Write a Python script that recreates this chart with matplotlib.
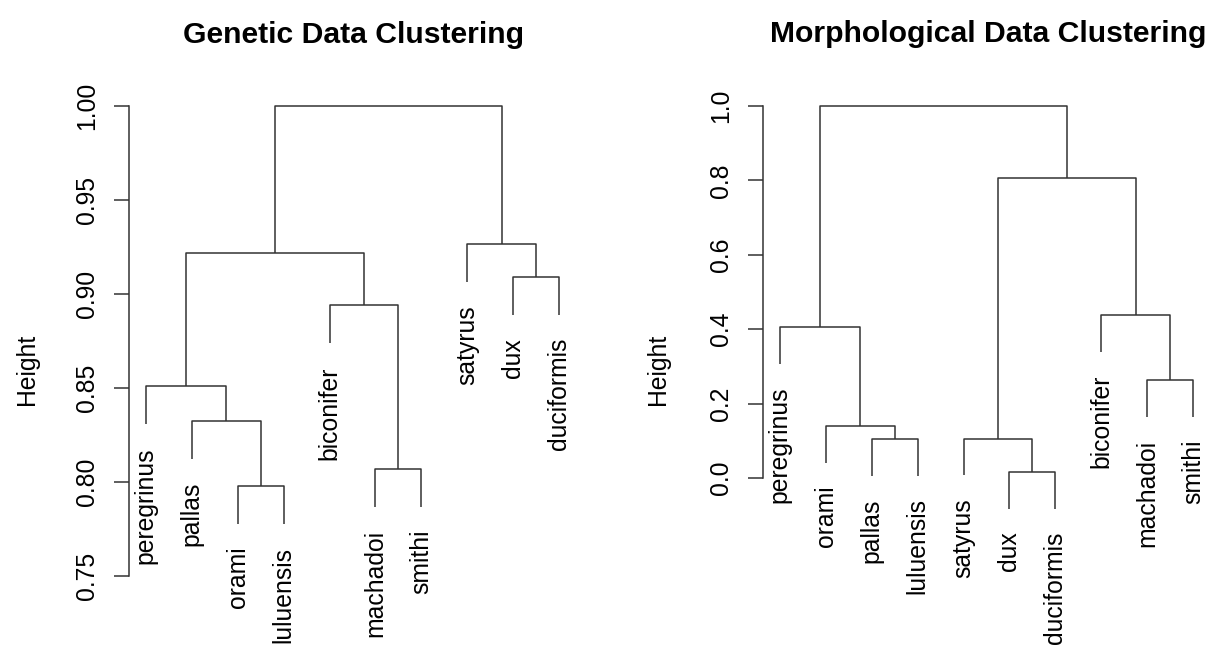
import matplotlib
matplotlib.use("Agg")
import matplotlib.pyplot as plt

# ----------------------------
# data: leaf order and merge heights (R hclust style)
# a merge joins two members: a leaf name or the index of an earlier merge
# ----------------------------
genetic_leaves = ["peregrinus", "pallas", "orami", "luluensis", "biconifer",
                  "machadoi", "smithi", "satyrus", "dux", "duciformis"]
genetic_left = ["orami", "machadoi", "pallas", "peregrinus", "biconifer", "dux", 3, "satyrus", 6]
genetic_right = ["luluensis", "smithi", 0, 2, 1, "duciformis", 4, 5, 7]
genetic_height = [0.798, 0.807, 0.8325, 0.851, 0.894, 0.909, 0.922, 0.9265, 1.0]
genetic_ticks = [0.75, 0.80, 0.85, 0.90, 0.95, 1.00]

morph_leaves = ["peregrinus", "orami", "pallas", "luluensis", "satyrus",
                "dux", "duciformis", "biconifer", "machadoi", "smithi"]
morph_left = ["dux", "pallas", "satyrus", "orami", "machadoi", "peregrinus", "biconifer", 2, 5]
morph_right = ["duciformis", "luluensis", 0, 1, "smithi", 3, 4, 6, 7]
morph_height = [0.016, 0.105, 0.106, 0.139, 0.2625, 0.405, 0.4375, 0.807, 1.0]
morph_ticks = [0.0, 0.2, 0.4, 0.6, 0.8, 1.0]

W, H, DPI = 1215, 646, 100
FONT = "Liberation Sans"
LINE = "#333333"
BASE_PT = 17.8

plt.rcParams["font.family"] = [FONT, "DejaVu Sans"]


def px_axes(fig, x0, x1, y0, y1):
    # axes rectangle given in pixels from the top-left corner
    return fig.add_axes([x0 / W, 1 - y1 / H, (x1 - x0) / W, (y1 - y0) / H])


# ----------------------------
# dendrogram drawing
# ----------------------------
def draw_dendrogram(ax, leaves, left, right, heights, hang=0.1):
    xpos = {name: i + 1 for i, name in enumerate(leaves)}
    drop = hang * (max(heights) - min(heights))
    node_x = []

    def member(m, h):
        # x position and top of the vertical line for one merge member
        if isinstance(m, str):
            return xpos[m], h - drop, m
        return node_x[m], heights[m], None

    for a, b, h in zip(left, right, heights):
        xa, ya, la = member(a, h)
        xb, yb, lb = member(b, h)
        ax.plot([xa, xa, xb, xb], [ya, h, h, yb], color=LINE, lw=1.1,
                solid_capstyle="butt", clip_on=False)
        for x, y, lab in ((xa, ya, la), (xb, yb, lb)):
            if lab is not None:
                ax.annotate(lab, xy=(x, y), xytext=(0, -16.5), textcoords="offset points",
                            rotation=90, ha="center", va="top", fontsize=BASE_PT,
                            annotation_clip=False)
        node_x.append((xa + xb) / 2)


def style_axis(ax, ticks, fmt, ylim):
    ax.set_xlim(0.64, 10.36)
    ax.set_ylim(*ylim)
    for side in ("top", "right", "bottom"):
        ax.spines[side].set_visible(False)
    ax.spines["left"].set_bounds(ticks[0], ticks[-1])
    ax.spines["left"].set_color(LINE)
    ax.spines["left"].set_linewidth(1.1)
    ax.set_xticks([])
    ax.set_yticks(ticks)
    ax.set_yticklabels([fmt % t for t in ticks])
    ax.tick_params(axis="y", direction="out", length=10.8, width=1.1, color=LINE,
                   pad=10.5, labelsize=BASE_PT, labelrotation=90)
    for lab in ax.get_yticklabels():
        lab.set_va("center")
    ax.patch.set_visible(False)


fig = plt.figure(figsize=(W / DPI, H / DPI), dpi=DPI)

# left panel: 1.00 at y=106px, 0.75 at y=576px
ax1 = px_axes(fig, 129, 576, 96, 640)
draw_dendrogram(ax1, genetic_leaves, genetic_left, genetic_right, genetic_height)
style_axis(ax1, genetic_ticks, "%.2f", (1 - 534 / 1880, 1 + 10 / 1880))

# right panel: 1.0 at y=106px, 0.0 at y=478px
ax2 = px_axes(fig, 763, 1210, 96, 640)
draw_dendrogram(ax2, morph_leaves, morph_left, morph_right, morph_height)
style_axis(ax2, morph_ticks, "%.1f", (1 - 534 / 372, 1 + 10 / 372))

# titles and axis labels
fig.text(353.5 / W, 1 - 43 / H, "Genetic Data Clustering", ha="center", va="baseline",
         fontsize=21.7, fontweight="bold")
fig.text(988 / W, 1 - 42 / H, "Morphological Data Clustering", ha="center", va="baseline",
         fontsize=21.7, fontweight="bold")
fig.text(27 / W, 1 - 369 / H, "Height", rotation=90, ha="center", va="center", fontsize=BASE_PT)
fig.text(658 / W, 1 - 369 / H, "Height", rotation=90, ha="center", va="center", fontsize=BASE_PT)

fig.savefig("out.png", dpi=DPI, facecolor="white")
